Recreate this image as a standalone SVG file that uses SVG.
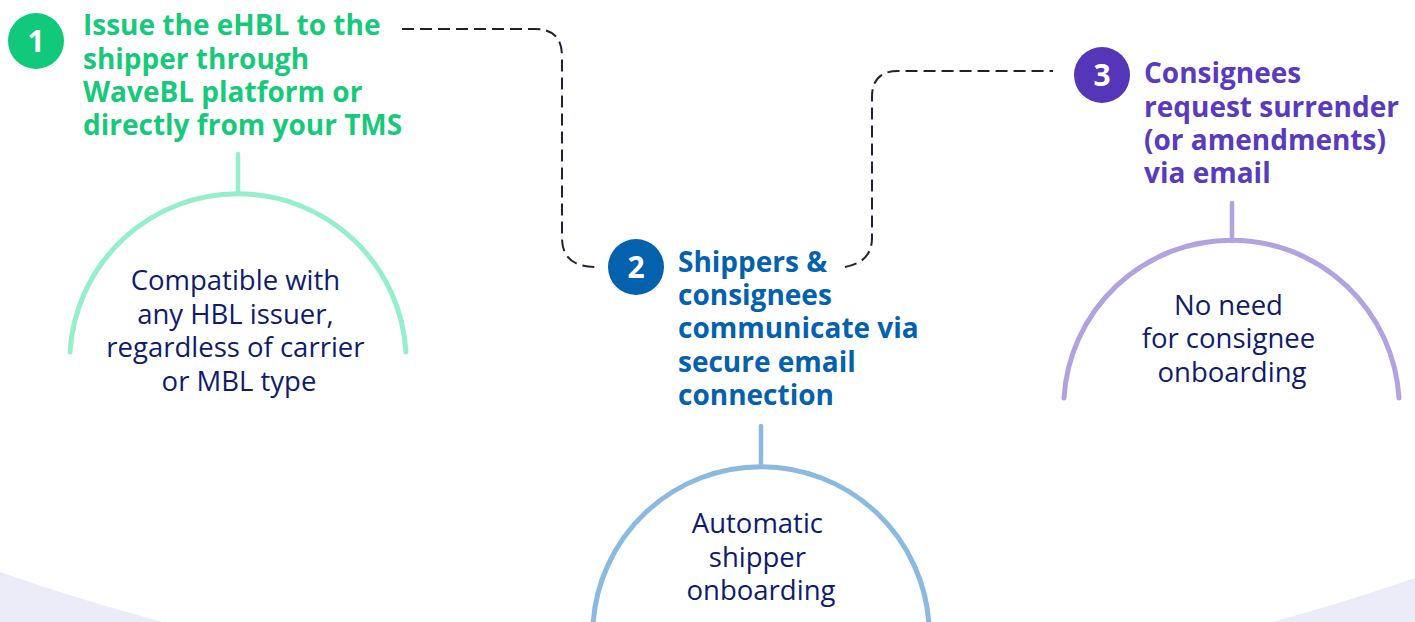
<svg xmlns="http://www.w3.org/2000/svg" width="1415" height="622" viewBox="0 0 1415 622">
  <style>
    .head { font-family: "Open Sans", "Liberation Sans", sans-serif; font-weight: 700; font-size: 28px; }
    .num { font-family: "Open Sans", "Liberation Sans", sans-serif; font-weight: 700; font-size: 30px; fill: #ffffff; text-anchor: middle; }
    .body { font-family: "Open Sans", "Liberation Sans", sans-serif; font-weight: 400; font-size: 27.5px; fill: #0f1c6b; text-anchor: middle; }
    .arc { fill: none; stroke-width: 5; stroke-linecap: round; }
    .stem { fill: none; stroke-width: 4.5; stroke-linecap: round; }
    .dash { fill: none; stroke: #1e2236; stroke-width: 2; stroke-dasharray: 12 6; }
  </style>
  <rect width="1415" height="622" fill="#ffffff"/>
  <g id="background">
    <path d="M0,572 A2138,2138 0 0 0 163,622 L0,622 Z" fill="#ecebf8"/>
    <path d="M1415,578 A2138,2138 0 0 1 1272,622 L1415,622 Z" fill="#ecebf8"/>
  </g>
  <g id="connectors">
    <path class="dash" d="M402,29 H535 Q562,29 562,56 V238 Q562,267 596,267"/>
    <path class="dash" d="M845,267 Q872,262 872,238 V97 Q872,71 898,71 H1053"/>
  </g>
  <g id="node1">
    <circle cx="36" cy="41" r="28" fill="#10c97a"/>
    <text class="num" x="36" y="52">1</text>
    <text class="head" fill="#17c97a">
      <tspan x="83" y="35">Issue the eHBL to the</tspan>
      <tspan x="83" y="69">shipper through</tspan>
      <tspan x="83" y="102">WaveBL platform or</tspan>
      <tspan x="83" y="135">directly from your TMS</tspan>
    </text>
    <line class="stem" x1="238" y1="154" x2="238" y2="193" stroke="#94efca"/>
    <path class="arc" d="M70,352 A168.3,168.3 0 0 1 406,352" stroke="#94efca"/>
    <text class="body">
      <tspan x="239" y="290">Compatible with</tspan>
      <tspan x="239" y="324">any HBL issuer,</tspan>
      <tspan x="239" y="357">regardless of carrier</tspan>
      <tspan x="239" y="391">or MBL type</tspan>
    </text>
  </g>
  <g id="node2">
    <circle cx="636" cy="267" r="28" fill="#0461ae"/>
    <text class="num" x="636" y="278">2</text>
    <text class="head" fill="#0461ae">
      <tspan x="678" y="272">Shippers &amp;</tspan>
      <tspan x="678" y="305">consignees</tspan>
      <tspan x="678" y="338">communicate via</tspan>
      <tspan x="678" y="372">secure email</tspan>
      <tspan x="678" y="405">connection</tspan>
    </text>
    <line class="stem" x1="761" y1="426" x2="761" y2="463" stroke="#8cb9df"/>
    <path class="arc" d="M593,625 A168.3,168.3 0 0 1 929,625" stroke="#8cb9df"/>
    <text class="body">
      <tspan x="761" y="533">Automatic</tspan>
      <tspan x="761" y="567">shipper</tspan>
      <tspan x="761" y="600">onboarding</tspan>
    </text>
  </g>
  <g id="node3">
    <circle cx="1102" cy="75" r="28" fill="#5535b8"/>
    <text class="num" x="1102" y="86">3</text>
    <text class="head" fill="#5a3bbd">
      <tspan x="1144" y="83">Consignees</tspan>
      <tspan x="1144" y="117">request surrender</tspan>
      <tspan x="1144" y="150">(or amendments)</tspan>
      <tspan x="1144" y="183">via email</tspan>
    </text>
    <line class="stem" x1="1232" y1="203" x2="1232" y2="241" stroke="#b3a2e1"/>
    <path class="arc" d="M1064,398 A167.8,167.8 0 0 1 1399,398" stroke="#b3a2e1"/>
    <text class="body">
      <tspan x="1232" y="315">No need</tspan>
      <tspan x="1232" y="348">for consignee</tspan>
      <tspan x="1232" y="382">onboarding</tspan>
    </text>
  </g>
</svg>
